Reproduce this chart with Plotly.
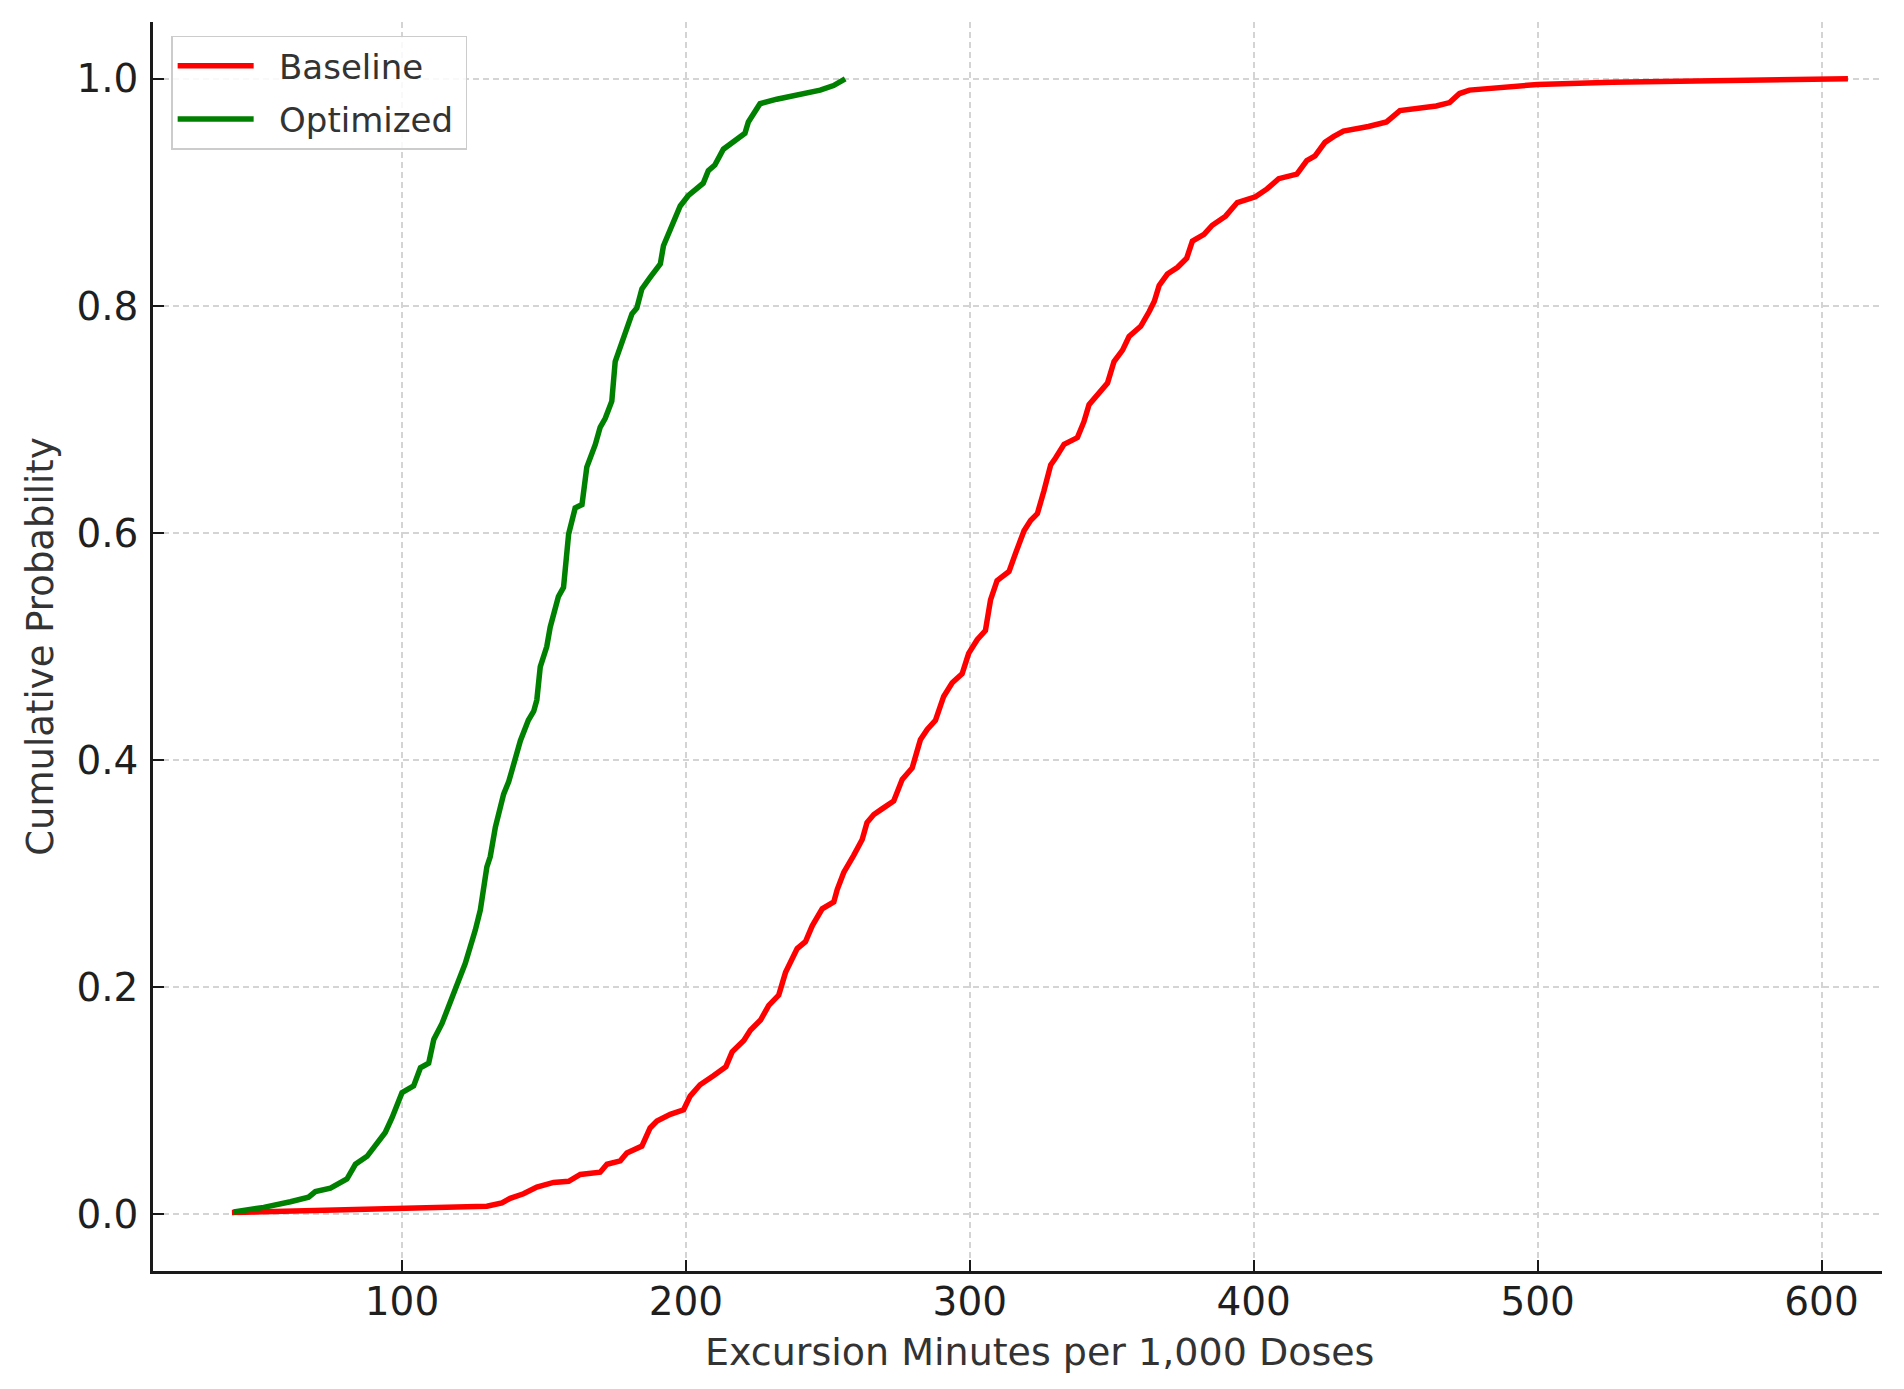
import plotly.graph_objects as go

# ---- data ----
baseline_x = [40.1, 71.2, 100.0, 129.9, 135.2, 138.1, 142.8, 147.5, 153.4, 158.7, 162.8, 169.8, 172.2,
              176.9, 179.2, 184.5, 187.4, 189.8, 194.5, 199.2, 201.5, 205.0, 209.7, 214.1, 216.3, 220.4,
              222.7, 226.3, 229.2, 232.7, 235.1, 239.2, 242.1, 244.5, 248.0, 252.1, 253.3, 255.6, 259.1,
              262.1, 263.8, 266.2, 269.1, 273.2, 276.2, 279.7, 282.6, 285.0, 287.9, 290.8, 293.8, 297.3,
              299.6, 302.6, 305.5, 307.3, 309.6, 313.8, 316.1, 319.1, 321.4, 323.8, 326.1, 328.5, 330.2,
              333.2, 337.9, 340.2, 342.0, 345.0, 348.5, 350.8, 353.8, 356.1, 360.2, 363.2, 365.0, 366.7,
              369.6, 373.2, 376.4, 378.4, 382.5, 385.4, 390.1, 394.2, 400.6, 404.7, 408.8, 415.2, 418.7,
              421.6, 425.1, 428.1, 431.6, 440.4, 446.8, 451.5, 464.3, 469.0, 472.5, 476.0, 500.0, 526.3,
              556.7, 609.3]
baseline_y = [0.0015, 0.0035, 0.0044, 0.007, 0.010, 0.014, 0.018, 0.024, 0.028, 0.029, 0.035, 0.037, 0.044,
              0.047, 0.054, 0.060, 0.076, 0.082, 0.088, 0.092, 0.104, 0.114, 0.122, 0.130, 0.143, 0.153,
              0.162, 0.171, 0.184, 0.193, 0.213, 0.234, 0.240, 0.254, 0.269, 0.275, 0.286, 0.301, 0.316,
              0.330, 0.345, 0.352, 0.357, 0.364, 0.383, 0.393, 0.418, 0.427, 0.435, 0.456, 0.468, 0.476,
              0.494, 0.506, 0.514, 0.541, 0.558, 0.566, 0.582, 0.602, 0.611, 0.617, 0.637, 0.660, 0.666,
              0.678, 0.684, 0.698, 0.713, 0.722, 0.732, 0.751, 0.761, 0.773, 0.782, 0.795, 0.804, 0.818,
              0.828, 0.834, 0.842, 0.857, 0.863, 0.871, 0.879, 0.891, 0.896, 0.903, 0.912, 0.916, 0.928,
              0.932, 0.944, 0.949, 0.954, 0.958, 0.962, 0.972, 0.976, 0.979, 0.987, 0.990, 0.995, 0.997,
              0.9985, 1.0]

optimized_x = [40.7, 51.3, 60.7, 67.1, 69.5, 74.8, 80.6, 83.6, 87.7, 91.2, 94.1, 96.5, 100.0, 104.1,
               106.5, 109.4, 111.2, 114.1, 117.0, 120.0, 122.3, 125.8, 127.6, 129.9, 131.1, 132.9, 134.0,
               135.8, 137.6, 139.9, 141.7, 144.5, 146.4, 147.5, 148.7, 151.0, 152.2, 155.1, 156.9, 158.7,
               161.0, 163.4, 165.1, 168.1, 169.8, 171.6, 173.9, 175.1, 177.5, 178.6, 181.0, 182.7, 184.5,
               187.4, 191.0, 192.1, 194.5, 198.0, 200.8, 206.1, 207.9, 210.2, 213.2, 216.1, 217.9, 220.8,
               222.0, 224.4, 226.1, 232.0, 240.2, 247.3, 252.0, 256.1]
optimized_y = [0.002, 0.006, 0.011, 0.015, 0.020, 0.023, 0.031, 0.044, 0.051, 0.063, 0.072, 0.085, 0.107,
               0.113, 0.129, 0.133, 0.154, 0.168, 0.186, 0.204, 0.221, 0.250, 0.268, 0.306, 0.315, 0.341,
               0.353, 0.370, 0.381, 0.400, 0.417, 0.435, 0.443, 0.453, 0.482, 0.500, 0.517, 0.544, 0.552,
               0.599, 0.622, 0.625, 0.658, 0.678, 0.693, 0.701, 0.716, 0.751, 0.768, 0.777, 0.793, 0.798,
               0.815, 0.825, 0.837, 0.853, 0.868, 0.888, 0.897, 0.908, 0.919, 0.924, 0.938, 0.943, 0.947,
               0.952, 0.962, 0.971, 0.978, 0.982, 0.986, 0.990, 0.994, 1.0]

x_tick_vals = [100, 200, 300, 400, 500, 600]
y_tick_vals = [0.0, 0.2, 0.4, 0.6, 0.8, 1.0]
y_tick_text = ["0.0", "0.2", "0.4", "0.6", "0.8", "1.0"]

series_names = ["Baseline", "Optimized"]
series_colors = ["#ff0000", "#008000"]

x_title = "Excursion Minutes per 1,000 Doses"
y_title = "Cumulative Probability"

FONT = "DejaVu Sans"

fig = go.Figure()
for name, xs, ys, col in zip(series_names,
                             [baseline_x, optimized_x],
                             [baseline_y, optimized_y],
                             series_colors):
    fig.add_trace(go.Scatter(x=xs, y=ys, mode="lines", name="\u2002\u200a" + name + "\u2009",
                             legendgroup=name,
                             line=dict(color=col, width=5.5)))

axis_common = dict(
    showgrid=True, gridcolor="#d4d4d4", gridwidth=1.5, griddash="6px,4px",
    zeroline=False, showline=True, linecolor="#1a1a1a", linewidth=2.5,
    ticks="inside", ticklen=11, tickwidth=2, tickcolor="#1a1a1a",
    tickfont=dict(family=FONT, size=39, color="#1f1f1f"),
    mirror=False,
)

fig.update_layout(
    width=1904, height=1389,
    paper_bgcolor="white", plot_bgcolor="white",
    margin=dict(l=145, r=30, t=14, b=126),
    font=dict(family=FONT, color="#333333"),
    showlegend=True,
    legend=dict(
        x=0.0105, y=0.989, xanchor="left", yanchor="top",
        bgcolor="rgba(255,255,255,0.85)", bordercolor="#cccccc", borderwidth=1.5,
        font=dict(family=FONT, size=34, color="#333333"),
        tracegroupgap=6, itemwidth=76,
    ),
    xaxis=dict(
        range=[12.3, 621.3], tickvals=x_tick_vals,
        ticklabelstandoff=-6,
        **axis_common,
    ),
    yaxis=dict(
        range=[-0.05, 1.05], tickvals=y_tick_vals, ticktext=y_tick_text,
        title=dict(text=y_title, font=dict(family=FONT, size=37, color="#333333"), standoff=12),
        ticklabelstandoff=4,
        **axis_common,
    ),
    annotations=[dict(
        text=x_title, xref="paper", yref="paper", x=0.513, y=0,
        xanchor="center", yanchor="middle", yshift=-81, showarrow=False,
        font=dict(family=FONT, size=38, color="#333333"),
    )],
)

fig.write_html("out.html")
